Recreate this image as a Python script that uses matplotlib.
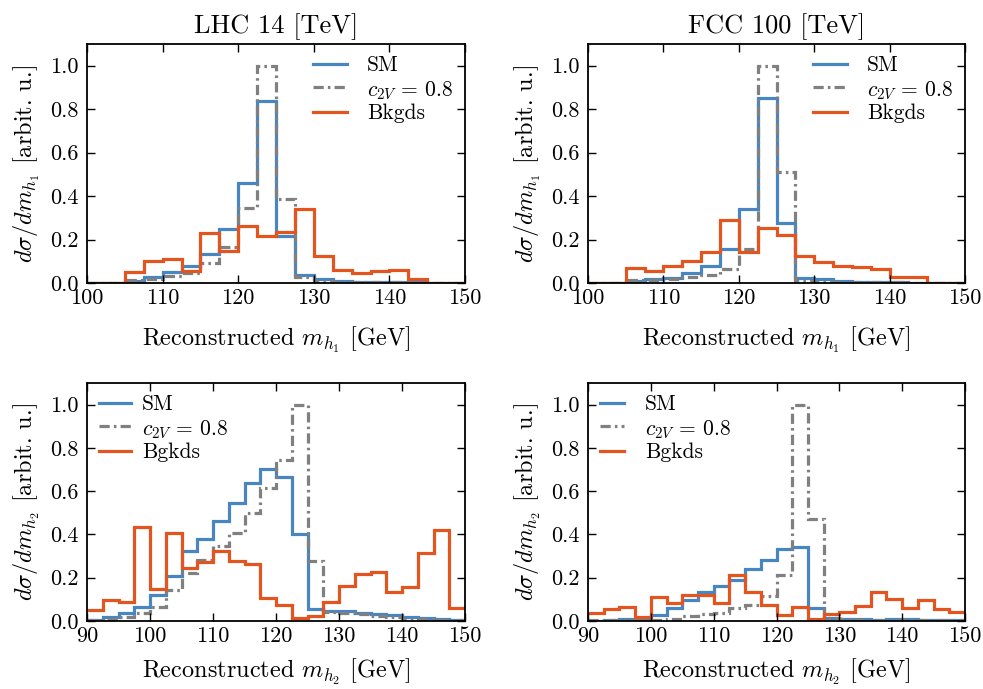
import numpy as np
import matplotlib
matplotlib.use("Agg")
import matplotlib.pyplot as plt
from matplotlib.ticker import FormatStrFormatter

plt.rcParams["font.family"] = "cmr10"
plt.rcParams["mathtext.fontset"] = "cm"
plt.rcParams["axes.formatter.use_mathtext"] = True

# ---- binning (2.5 GeV bins) ----
edges_h1 = np.arange(100.0, 150.01, 2.5)   # 20 bins
edges_h2 = np.arange(90.0, 150.01, 2.5)    # 24 bins

# ---- leading Higgs candidate, LHC 14 TeV ----
lhc_h1_sm = [0.0, 0.0, 0.010, 0.026, 0.049, 0.078, 0.134, 0.250, 0.460, 0.839,
             0.217, 0.037, 0.020, 0.010, 0.006, 0.005, 0.004, 0.003, 0.002, 0.002]
lhc_h1_c2v = [0.0, 0.0, 0.014, 0.020, 0.032, 0.045, 0.090, 0.164, 0.343, 1.000,
              0.386, 0.026, 0.010, 0.006, 0.005, 0.004, 0.003, 0.002, 0.002, 0.002]
lhc_h1_bkg = [0.0, 0.0, 0.052, 0.103, 0.109, 0.057, 0.232, 0.149, 0.263, 0.217,
              0.237, 0.341, 0.126, 0.060, 0.048, 0.055, 0.060, 0.017, 0.0, 0.0]

# ---- leading Higgs candidate, FCC 100 TeV ----
fcc_h1_sm = [0.0, 0.0, 0.011, 0.018, 0.023, 0.045, 0.078, 0.155, 0.341, 0.851,
             0.278, 0.025, 0.018, 0.008, 0.004, 0.004, 0.003, 0.002, 0.002, 0.002]
fcc_h1_c2v = [0.0, 0.0, 0.014, 0.015, 0.017, 0.026, 0.037, 0.063, 0.155, 1.000,
              0.510, 0.010, 0.006, 0.005, 0.004, 0.003, 0.003, 0.002, 0.002, 0.002]
fcc_h1_bkg = [0.0, 0.0, 0.068, 0.055, 0.080, 0.103, 0.143, 0.290, 0.143, 0.255,
              0.221, 0.124, 0.095, 0.078, 0.072, 0.066, 0.026, 0.029, 0.0, 0.0]

# ---- subleading Higgs candidate, LHC 14 TeV ----
lhc_h2_sm = [0.005, 0.017, 0.036, 0.067, 0.121, 0.206, 0.322, 0.377, 0.462, 0.547,
             0.637, 0.702, 0.664, 0.400, 0.054, 0.048, 0.047, 0.039, 0.033, 0.026,
             0.017, 0.012, 0.008, 0.005]
lhc_h2_c2v = [0.005, 0.008, 0.020, 0.036, 0.067, 0.144, 0.222, 0.284, 0.346, 0.408,
              0.500, 0.617, 0.746, 1.000, 0.276, 0.043, 0.036, 0.031, 0.023, 0.017,
              0.011, 0.008, 0.005, 0.005]
lhc_h2_bkg = [0.051, 0.095, 0.090, 0.436, 0.147, 0.408, 0.245, 0.271, 0.322, 0.279,
              0.264, 0.105, 0.074, 0.012, 0.023, 0.090, 0.160, 0.217, 0.225, 0.136,
              0.157, 0.315, 0.419, 0.062]

# ---- subleading Higgs candidate, FCC 100 TeV ----
fcc_h2_sm = [0.002, 0.005, 0.008, 0.008, 0.028, 0.059, 0.098, 0.132, 0.160, 0.191,
             0.242, 0.284, 0.333, 0.341, 0.062, 0.016, 0.011, 0.008, 0.005, 0.008,
             0.008, 0.005, 0.004, 0.003]
fcc_h2_c2v = [0.003, 0.003, 0.003, 0.003, 0.005, 0.008, 0.023, 0.031, 0.039, 0.059,
              0.074, 0.116, 0.214, 1.000, 0.470, 0.012, 0.008, 0.005, 0.005, 0.004,
              0.004, 0.003, 0.003, 0.003]
fcc_h2_bkg = [0.036, 0.054, 0.064, 0.020, 0.113, 0.085, 0.121, 0.121, 0.085, 0.214,
              0.136, 0.074, 0.028, 0.067, 0.008, 0.031, 0.043, 0.070, 0.136, 0.102,
              0.059, 0.098, 0.054, 0.040]

titles = ["LHC 14 [TeV]", "FCC 100 [TeV]"]
sig_label = "SM"
c2v_label = r"$c_{2V}\,=\,0.8$"
bkg_label_top = "Bkgds"
bkg_label_bottom = "Bgkds"

C_SM = "#4886c1"
C_C2V = "#808080"
C_BKG = "#e4541e"
DASHDOT = (0, (3.2, 1.3, 0.8, 1.3))

fig = plt.figure(figsize=(9.83, 6.89), dpi=100)
W, H = 983.0, 689.0


def make_axes(x0, x1, y0, y1):
    return fig.add_axes([x0 / W, 1 - y1 / H, (x1 - x0) / W, (y1 - y0) / H])


axes = [
    [make_axes(87, 465, 44, 283), make_axes(588, 965, 44, 283)],
    [make_axes(87, 465, 383, 621), make_axes(588, 965, 383, 621)],
]

# (row, col, edges, SM, c2V, bkg, bkg label, higgs index, legend loc, handlelength, handletextpad)
panels = [
    (0, 0, edges_h1, lhc_h1_sm, lhc_h1_c2v, lhc_h1_bkg, bkg_label_top, 1, "upper right", 1.55, 0.95),
    (0, 1, edges_h1, fcc_h1_sm, fcc_h1_c2v, fcc_h1_bkg, bkg_label_top, 1, "upper right", 1.55, 0.95),
    (1, 0, edges_h2, lhc_h2_sm, lhc_h2_c2v, lhc_h2_bkg, bkg_label_bottom, 2, "upper left", 1.5, 0.5),
    (1, 1, edges_h2, fcc_h2_sm, fcc_h2_c2v, fcc_h2_bkg, bkg_label_bottom, 2, "upper left", 1.1, 1.0),
]

for r, c, edges, sm, c2v, bkg, blab, idx, loc, hlen, hpad in panels:
    ax = axes[r][c]
    lw = 2.3
    ax.stairs(sm, edges, color=C_SM, lw=lw, label=sig_label, baseline=None)
    ax.stairs(c2v, edges, color=C_C2V, lw=lw, ls=DASHDOT, label=c2v_label, baseline=None)
    ax.stairs(bkg, edges, color=C_BKG, lw=lw, label=blab, baseline=None)
    ax.set_xlim(edges[0], edges[-1])
    ax.set_ylim(0, 1.1)
    ax.set_xticks(np.arange(edges[0], edges[-1] + 0.1, 10))
    ax.set_yticks([0.0, 0.2, 0.4, 0.6, 0.8, 1.0])
    ax.xaxis.set_major_formatter(FormatStrFormatter("%d"))
    ax.yaxis.set_major_formatter(FormatStrFormatter("%.1f"))
    ax.tick_params(which="both", direction="in", top=True, right=True,
                   length=6, width=1.0, labelsize=16)
    ax.tick_params(axis="x", pad=4)
    ax.tick_params(axis="y", pad=6)
    for s in ax.spines.values():
        s.set_linewidth(1.3)
    ax.set_xlabel(r"Reconstructed $m_{h_%d}$ [GeV]" % idx, fontsize=17.5,
                  labelpad=12 if r == 0 else 8)
    ax.set_ylabel(r"$d\sigma/dm_{h_%d}$ [arbit. u.]" % idx, fontsize=17.5, labelpad=6)
    if r == 0:
        ax.set_title(titles[c], fontsize=19, pad=8)
    ax.legend(loc=loc, frameon=False, fontsize=15.5, handlelength=hlen,
              handletextpad=hpad, labelspacing=0.15, borderaxespad=0.15)

fig.savefig("out.png", dpi=100)
